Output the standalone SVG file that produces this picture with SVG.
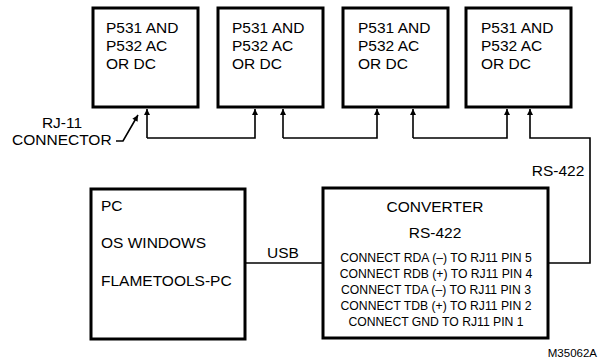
<svg xmlns="http://www.w3.org/2000/svg" width="600" height="362" viewBox="0 0 600 362">
<style>
.box{fill:#fff;stroke:#000;stroke-width:3}
.t{font-family:"Liberation Sans",Arial,sans-serif;fill:#000}
.big{font-size:15.5px}
.sm{font-size:12.2px}
.ln{fill:none;stroke:#000;stroke-width:1.6}
</style>
<defs>
<marker id="ah" viewBox="0 0 10 10" refX="10" refY="5" markerWidth="10" markerHeight="6" markerUnits="userSpaceOnUse" orient="auto">
<path d="M0,0 L10,5 L0,10 z" fill="#000"/>
</marker>
</defs>
<g id="node1"><rect class="box" x="93" y="8" width="105" height="99"/>
<text class="t big" x="106" y="33">P531 AND</text><text class="t big" x="106" y="51">P532 AC</text><text class="t big" x="106" y="69">OR DC</text></g>
<g id="node2"><rect class="box" x="218" y="8" width="105" height="99"/>
<text class="t big" x="232" y="33">P531 AND</text><text class="t big" x="232" y="51">P532 AC</text><text class="t big" x="232" y="69">OR DC</text></g>
<g id="node3"><rect class="box" x="343" y="8" width="105" height="99"/>
<text class="t big" x="358" y="33">P531 AND</text><text class="t big" x="358" y="51">P532 AC</text><text class="t big" x="358" y="69">OR DC</text></g>
<g id="node4"><rect class="box" x="466" y="8" width="105" height="99"/>
<text class="t big" x="481" y="33">P531 AND</text><text class="t big" x="481" y="51">P532 AC</text><text class="t big" x="481" y="69">OR DC</text></g>
<g id="pc"><rect class="box" x="91" y="189" width="154" height="150"/>
<text class="t big" x="101" y="211">PC</text><text class="t big" x="101" y="248">OS WINDOWS</text><text class="t big" x="101" y="286">FLAMETOOLS-PC</text></g>
<g id="converter"><rect class="box" x="323" y="188" width="225" height="150"/>
<text class="t big" x="435" y="212" text-anchor="middle">CONVERTER</text>
<text class="t big" x="435" y="238" text-anchor="middle">RS-422</text>
<text class="t sm" x="436" y="262" text-anchor="middle">CONNECT RDA (–) TO RJ11 PIN 5</text>
<text class="t sm" x="436" y="278" text-anchor="middle">CONNECT RDB (+) TO RJ11 PIN 4</text>
<text class="t sm" x="436" y="294" text-anchor="middle">CONNECT TDA (–) TO RJ11 PIN 3</text>
<text class="t sm" x="436" y="310" text-anchor="middle">CONNECT TDB (+) TO RJ11 PIN 2</text>
<text class="t sm" x="436" y="326" text-anchor="middle">CONNECT GND TO RJ11 PIN 1</text></g>
<g id="connectors">
<path class="ln" d="M147,138 H255 V109" marker-end="url(#ah)"/>
<path class="ln" d="M147,138 V109" marker-end="url(#ah)"/>
<path class="ln" d="M283,138 H377 V109" marker-end="url(#ah)"/>
<path class="ln" d="M283,138 V109" marker-end="url(#ah)"/>
<path class="ln" d="M413,138 H507 V109" marker-end="url(#ah)"/>
<path class="ln" d="M413,138 V109" marker-end="url(#ah)"/>
<path class="ln" d="M548,263 H590 V138 H530 V109" marker-end="url(#ah)"/>
<path class="ln" d="M245,263 H323"/>
<path class="ln" d="M116,141 H123 L138,115" marker-end="url(#ah)"/>
</g>
<text class="t big" x="62" y="128" text-anchor="middle">RJ-11</text>
<text class="t big" x="12" y="145">CONNECTOR</text>
<text class="t big" x="283" y="258" text-anchor="middle">USB</text>
<text class="t big" x="558" y="176" text-anchor="middle">RS-422</text>
<text class="t" font-size="11.5" x="597" y="357" text-anchor="end">M35062A</text>
</svg>
